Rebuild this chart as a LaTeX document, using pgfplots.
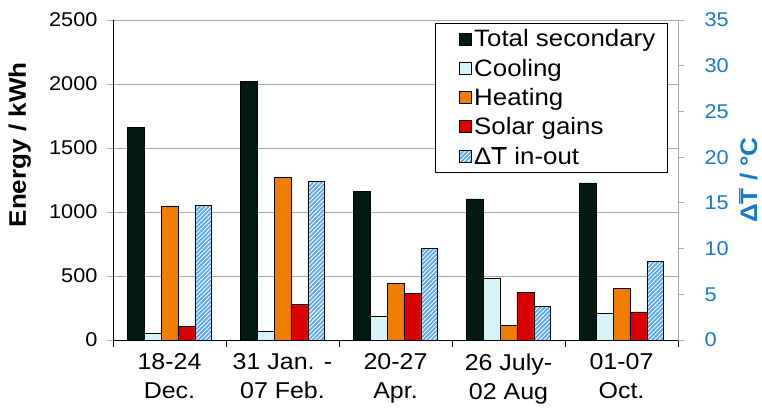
\documentclass[border=0pt]{standalone}
\usepackage{fontspec}
\setmainfont{Liberation Sans}[FakeStretch=1.09]
\usepackage{pgfplots}
\pgfplotsset{compat=1.18}
\usetikzlibrary{patterns.meta}

\definecolor{totalc}{HTML}{021A10}
\definecolor{coolc}{HTML}{D6F4F8}
\definecolor{heatc}{HTML}{F07C00}
\definecolor{solarc}{HTML}{D90000}
\definecolor{dtc}{HTML}{5BA8F5}
\definecolor{axblue}{HTML}{1A78C8}
\definecolor{gridc}{HTML}{A8A8A8}

% weekly energy balance, kWh
\pgfplotstableread{
x total cooling heating solar
0 1662  52 1047 104
1 2018  65 1271 279
2 1159 188  445 365
3 1102 482  117 370
4 1227 208  406 219
}\energy
% mean indoor-outdoor temperature difference, degC
\pgfplotstableread{
x dt
0 14.7
1 17.4
2 10.0
3 3.7
4 8.6
}\tempdiff

\newcommand{\dT}{Δ\ensuremath{\overline{\mbox{T}}}}

\tikzset{hatchblue/.style={pattern={Lines[angle=45, distance=3bp, line width=0.9bp]}, pattern color=white}}

\pgfplotsset{
  commonaxis/.style={
    scale only axis, width=565bp, height=320bp,
    xmin=-0.5, xmax=4.5,
    /pgf/number format/assume math mode=true,
    /pgf/number format/1000 sep={},
    tick align=outside,
    major tick length=6bp,
  },
}

\begin{document}
\begin{tikzpicture}
\begin{axis}[commonaxis,
  ymin=0, ymax=2500, ytick={0,500,...,2500},
  axis x line*=bottom, axis y line*=left,
  axis line style={black, line width=0.8bp},
  ymajorgrids, grid style={gridc, line width=0.8bp},
  y tick style={gridc, line width=0.8bp},
  yticklabel style={font=\fontsize{20}{24}\selectfont, black, xshift=-6bp},
  scaled y ticks=false,
  xtick={0,...,4},
  xticklabels={{18-24\\Dec.},{31 Jan. -\\07 Feb.},{20-27\\Apr.},{26 July-\\02 Aug},{01-07\\Oct.}},
  xticklabel style={font=\fontsize{23}{29}\selectfont, align=center, yshift=-4bp},
  major x tick style={draw=none},
  minor xtick={-0.5,0.5,...,4.5},
  minor x tick style={black, line width=0.8bp},
  minor tick length=7bp,
  ylabel={\textbf{Energy / kWh}},
  ylabel style={font=\fontsize{24}{28}\selectfont, at={(axis description cs:-0.165,0.61)}, anchor=center},
  ybar, bar width=0.15,
  every axis plot/.append style={draw=black, line width=0.8bp},
]
\addplot[fill=totalc, bar shift=-0.30] table[x=x, y=total] {\energy};
\addplot[fill=coolc,  bar shift=-0.15] table[x=x, y=cooling] {\energy};
\addplot[fill=heatc,  bar shift=0]     table[x=x, y=heating] {\energy};
\addplot[fill=solarc, bar shift=0.15]  table[x=x, y=solar] {\energy};
\end{axis}

\begin{axis}[commonaxis,
  ymin=0, ymax=35, ytick={0,5,...,35},
  axis x line=none, axis y line*=right,
  axis line style={gridc, line width=0.8bp},
  y tick style={gridc, line width=0.8bp},
  yticklabel style={font=\fontsize{20}{24}\selectfont, text=axblue, xshift=17bp},
  ylabel={\textbf{\dT{} / °C}},
  ylabel style={font=\fontsize{24}{28}\selectfont, text=axblue, at={(axis description cs:1.124,0.5)}, anchor=center},
  ybar, bar width=0.15,
  legend cell align=left,
  legend style={at={(axis description cs:0.982,0.99)}, anchor=north east,
    draw=black, line width=1.2bp, font=\fontsize{23.8}{28}\selectfont,
    row sep=6.5bp, inner xsep=10bp, inner ysep=4bp},
  legend image code/.code={
    \path[draw=none, fill=none] (0bp,0bp) -- (26bp,0bp);
    \draw[#1, line width=0.8bp] (14bp,-6bp) rectangle (26bp,6bp);},
]
\addlegendimage{fill=totalc, draw=black}
\addlegendentry{Total secondary}
\addlegendimage{fill=coolc, draw=black}
\addlegendentry{Cooling}
\addlegendimage{fill=heatc, draw=black}
\addlegendentry{Heating}
\addlegendimage{fill=solarc, draw=black}
\addlegendentry{Solar gains}
\addlegendimage{legend image code/.code={
    \path[draw=none, fill=none] (0bp,0bp) -- (26bp,0bp);
    \fill[dtc] (14bp,-6bp) rectangle (26bp,6bp);
    \fill[hatchblue] (14bp,-6bp) rectangle (26bp,6bp);
    \draw[black, line width=0.8bp] (14bp,-6bp) rectangle (26bp,6bp);}}
\addlegendentry{\dT{} in-out}
\addplot[fill=dtc, draw=black, line width=0.8bp, bar shift=0.30,
  postaction={hatchblue}, forget plot]
  table[x=x, y=dt] {\tempdiff};
\end{axis}
\path[use as bounding box] (-113bp,-73bp) rectangle (649bp,340bp);
\end{tikzpicture}
\end{document}
